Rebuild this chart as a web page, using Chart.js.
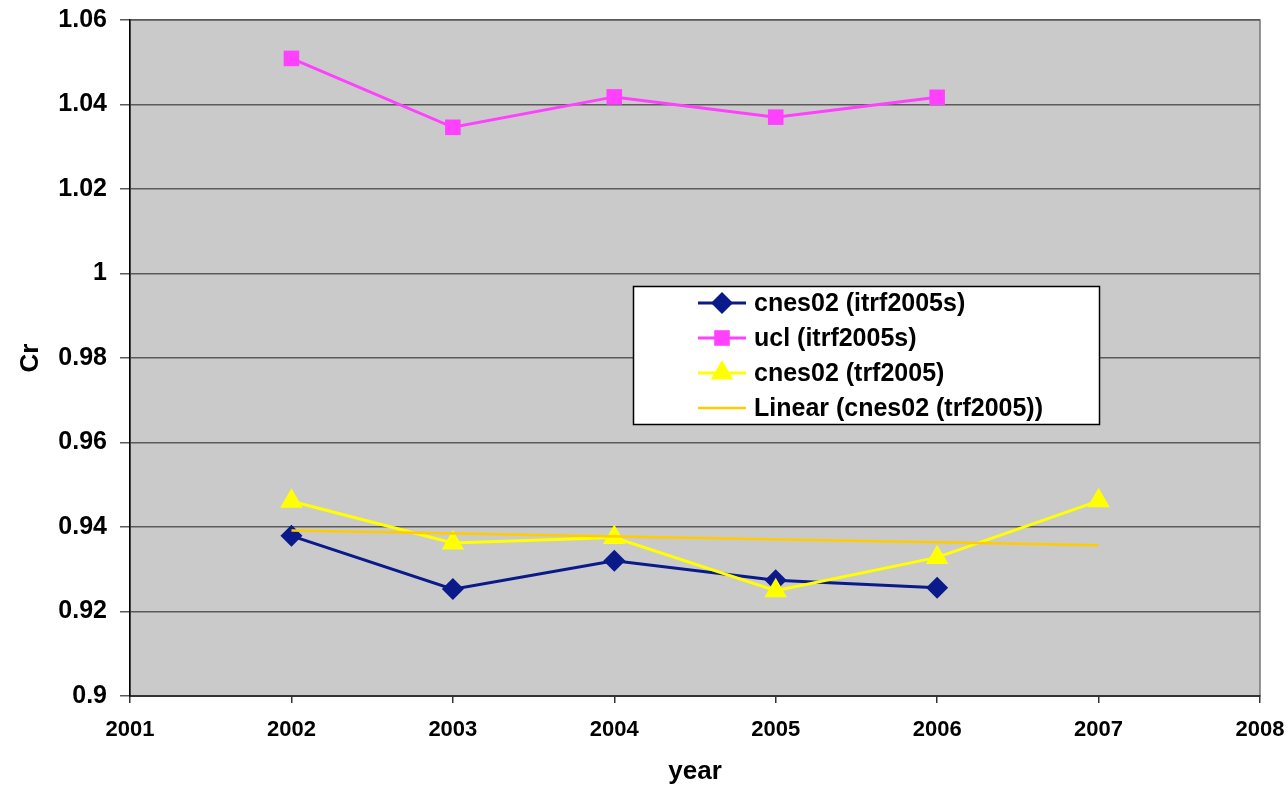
<!DOCTYPE html>
<html>
<head>
<meta charset="utf-8">
<script src="https://cdn.jsdelivr.net/npm/chart.js@4.4.1/dist/chart.umd.min.js"></script>
<style>
    html, body { margin: 0; padding: 0; background: #fff; }
    #wrap { width: 1288px; height: 787px; }
</style>
</head>
<body>
<div id="wrap"><canvas id="chart"></canvas></div>
<script>
// values
const years = [2002, 2003, 2004, 2005, 2006, 2007];
const cnesItrf = [0.9379, 0.9253, 0.9320, 0.9274, 0.9256];
const uclItrf = [1.0509, 1.0346, 1.0418, 1.0370, 1.0417];
const cnesTrf = [0.9461, 0.9362, 0.9375, 0.9249, 0.9328, 0.9462];
const trendYears = [2002, 2007];
const trendValues = [0.9392, 0.9357];
const seriesNames = ["cnes02 (itrf2005s)", "ucl (itrf2005s)", "cnes02 (trf2005)", "Linear (cnes02 (trf2005))"];

const FONT = "'Liberation Sans', Arial, sans-serif";

function pts(xs, ys) {
    return ys.map((v, i) => ({ x: xs[i], y: v }));
}

// grey plot background + frame
const plotBg = {
    id: "plotBg",
    beforeDraw(chart) {
        const { ctx, chartArea: a } = chart;
        ctx.save();
        ctx.fillStyle = "#cacaca";
        ctx.fillRect(a.left, a.top, a.right - a.left, a.bottom - a.top);
        ctx.strokeStyle = "#777";
        ctx.lineWidth = 1.5;
        ctx.strokeRect(a.left, a.top, a.right - a.left, a.bottom - a.top);
        ctx.restore();
    }
};

// boxed legend sitting inside the plot
const legendBox = {
    id: "legendBox",
    afterDraw(chart) {
        const ctx = chart.ctx;
        ctx.save();
        ctx.fillStyle = "#fff";
        ctx.fillRect(633, 286, 466, 138);
        ctx.strokeStyle = "#000";
        ctx.lineWidth = 1.5;
        ctx.strokeRect(633.5, 286.5, 466, 138);
        ctx.font = "bold 25px " + FONT;
        ctx.textBaseline = "middle";
        chart.data.datasets.forEach((ds, i) => {
            const y = 303 + i * 35;
            ctx.strokeStyle = ds.borderColor;
            ctx.lineWidth = ds.borderWidth;
            ctx.beginPath();
            ctx.moveTo(698, y);
            ctx.lineTo(746, y);
            ctx.stroke();
            if (ds.pointRadius > 0) {
                ctx.fillStyle = ds.pointBackgroundColor;
                Chart.helpers.drawPoint(ctx, {
                    pointStyle: ds.pointStyle,
                    radius: ds.pointRadius,
                    rotation: 0,
                    borderWidth: 0
                }, 722, y);
            }
            ctx.fillStyle = "#000";
            ctx.fillText(ds.label, 754, y + 1);
        });
        ctx.restore();
    }
};

const ctx = document.getElementById("chart").getContext("2d");

new Chart(ctx, {
    type: "line",
    data: {
        datasets: [
            {
                label: seriesNames[0],
                data: pts(years, cnesItrf),
                borderColor: "#0a1a8a",
                backgroundColor: "#0a1a8a",
                pointBackgroundColor: "#0a1a8a",
                pointBorderWidth: 0,
                borderWidth: 3,
                pointStyle: "rectRot",
                pointRadius: 11,
                order: 4
            },
            {
                label: seriesNames[1],
                data: pts(years, uclItrf),
                borderColor: "#ff40ff",
                backgroundColor: "#ff40ff",
                pointBackgroundColor: "#ff40ff",
                pointBorderWidth: 0,
                borderWidth: 3,
                pointStyle: "rect",
                pointRadius: 11,
                order: 3
            },
            {
                label: seriesNames[2],
                data: pts(years, cnesTrf),
                borderColor: "#ffff00",
                backgroundColor: "#ffff00",
                pointBackgroundColor: "#ffff00",
                pointBorderWidth: 0,
                borderWidth: 3,
                pointStyle: "triangle",
                pointRadius: 13,
                order: 2
            },
            {
                label: seriesNames[3],
                data: pts(trendYears, trendValues),
                borderColor: "#ffcc00",
                backgroundColor: "#ffcc00",
                borderWidth: 2.5,
                pointRadius: 0,
                order: 1
            }
        ]
    },
    options: {
        responsive: true,
        maintainAspectRatio: false,
        animation: false,
        layout: {
            padding: { top: 20, right: 28, left: 0, bottom: 0 }
        },
        plugins: {
            legend: { display: false },
            tooltip: { enabled: false }
        },
        scales: {
            x: {
                type: "linear",
                min: 2001,
                max: 2008,
                afterFit(scale) {
                    scale.height = 91;
                    scale.paddingLeft = 0;
                    scale.paddingRight = 0;
                },
                ticks: {
                    stepSize: 1,
                    autoSkip: false,
                    maxRotation: 0,
                    padding: 14,
                    color: "#000",
                    font: { family: FONT, size: 22, weight: "bold" },
                    callback: v => String(v)
                },
                grid: {
                    drawOnChartArea: false,
                    drawTicks: true,
                    tickLength: 7,
                    color: "#333",
                    lineWidth: 1.5
                },
                border: { color: "#333", width: 2 },
                title: {
                    display: true,
                    text: "year",
                    color: "#000",
                    padding: { top: 0, bottom: 0 },
                    font: { family: FONT, size: 26, weight: "bold" }
                }
            },
            y: {
                min: 0.9,
                max: 1.06,
                afterFit(scale) {
                    scale.width = 130;
                    scale.paddingTop = 0;
                    scale.paddingBottom = 0;
                },
                ticks: {
                    stepSize: 0.02,
                    padding: 13,
                    color: "#000",
                    font: { family: FONT, size: 25, weight: "bold" },
                    callback: v => String(Number(v.toFixed(2)))
                },
                grid: {
                    color: "#5a5a5a",
                    lineWidth: 1.5,
                    tickLength: 10
                },
                border: { color: "#000", width: 1.5 },
                title: {
                    display: true,
                    text: "Cr",
                    color: "#000",
                    padding: { top: 15, bottom: 0 },
                    font: { family: FONT, size: 26, weight: "bold" }
                }
            }
        }
    },
    plugins: [plotBg, legendBox]
});
</script>
</body>
</html>
